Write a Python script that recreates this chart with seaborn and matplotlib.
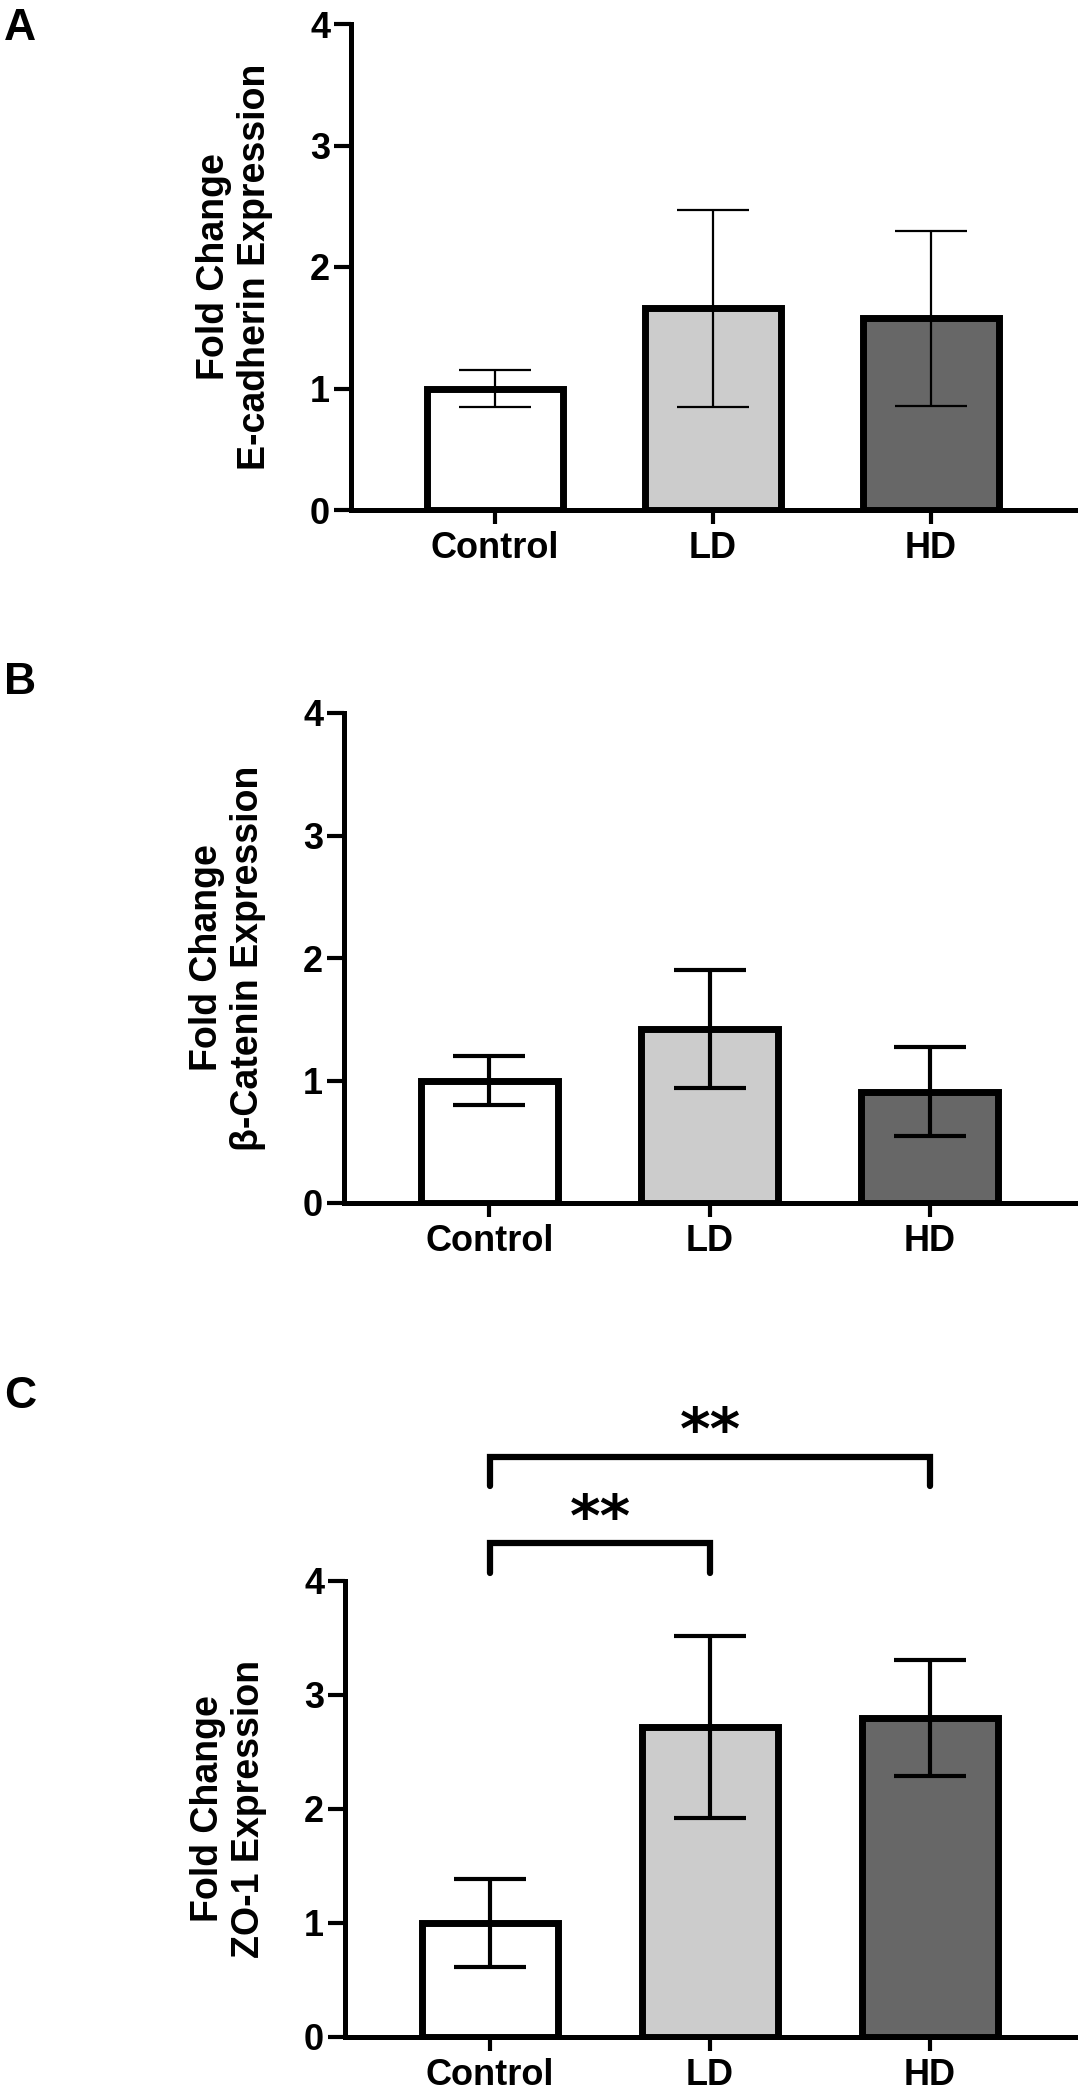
import numpy as np
import pandas as pd
import matplotlib
matplotlib.use("Agg")
import matplotlib.pyplot as plt
import seaborn as sns

# -------------------------------
# Data
# -------------------------------
groups = ["Control", "LD", "HD"]
bar_colors = ["#ffffff", "#cccccc", "#676767"]

ecad_mean = [1.00, 1.66, 1.58]
ecad_err = [0.15, 0.81, 0.72]

bcat_mean = [1.00, 1.42, 0.91]
bcat_err = [0.20, 0.48, 0.36]

zo1_mean = [1.00, 2.72, 2.80]
zo1_err = [0.39, 0.80, 0.51]

ylabels = [
    "Fold Change\nE-cadherin Expression",
    "Fold Change\n\u03b2-Catenin Expression",
    "Fold Change\nZO-1 Expression",
]
panel_letters = ["A", "B", "C"]
yticks = [0, 1, 2, 3, 4]

# significance brackets for panel C
bracket_pairs = [(0, 1), (0, 2)]
bracket_heights = [4.33, 5.09]
bracket_labels = ["**", "**"]

# -------------------------------
# Style
# -------------------------------
sns.set_style("ticks", {
    "axes.edgecolor": "black",
    "text.color": "black",
    "axes.labelcolor": "black",
    "xtick.color": "black",
    "ytick.color": "black",
})
plt.rcParams["font.family"] = ["Liberation Sans", "DejaVu Sans"]

fig = plt.figure(figsize=(10.8, 21), dpi=100)

# axes positions in figure fractions [left, bottom, width, height]
ax_boxes = [
    [351 / 1080, 1 - 510 / 2100, 724 / 1080, 486 / 2100],
    [344 / 1080, 1 - 1203 / 2100, 731 / 1080, 490 / 2100],
    [345 / 1080, 1 - 2037 / 2100, 730 / 1080, 456 / 2100],
]
err_lw = [1.6, 3.0, 3.0]
panels = [(ecad_mean, ecad_err), (bcat_mean, bcat_err), (zo1_mean, zo1_err)]

axes = []
for i, (means, errs) in enumerate(panels):
    ax = fig.add_axes(ax_boxes[i])
    df = pd.DataFrame({"group": groups, "value": means})

    sns.barplot(
        data=df, x="group", y="value", hue="group",
        palette=bar_colors, edgecolor="black", linewidth=5,
        width=0.62, errorbar=None, legend=False, ax=ax, zorder=2,
    )
    ax.errorbar(
        np.arange(len(groups)), means, yerr=errs, fmt="none",
        ecolor="black", elinewidth=err_lw[i], capsize=26,
        capthick=err_lw[i], zorder=3,
    )

    ax.set_xlim(-0.66, 2.66)
    ax.set_ylim(0, 4)
    ax.set_yticks(yticks)
    ax.set_xlabel("")
    ax.set_ylabel(ylabels[i], fontsize=27, fontweight="bold",
                  linespacing=1.15, labelpad=27, color="black")

    for lab in ax.get_xticklabels() + ax.get_yticklabels():
        lab.set_fontweight("bold")
        lab.set_fontsize(26)
        lab.set_color("black")

    sns.despine(ax=ax)
    for side in ["left", "bottom"]:
        ax.spines[side].set_linewidth(3.6)
        ax.spines[side].set_color("black")
    ax.tick_params(axis="y", length=12, width=3, pad=3, color="black")
    ax.tick_params(axis="x", length=10, width=3, pad=5, color="black")
    ax.patch.set_alpha(0)
    axes.append(ax)

# -------------------------------
# Panel letters
# -------------------------------
letter_y = [28, 683, 1396]
for letter, y in zip(panel_letters, letter_y):
    fig.text(20 / 1080, 1 - y / 2100, letter, fontsize=32,
             fontweight="bold", color="black", ha="center", va="center")

# -------------------------------
# Significance brackets (panel C)
# -------------------------------
axc = axes[2]
drop = 0.26
for (g1, g2), h, lab in zip(bracket_pairs, bracket_heights, bracket_labels):
    axc.plot([g1, g1, g2, g2], [h - drop, h, h, h - drop], color="black",
             lw=4.5, clip_on=False, solid_capstyle="round",
             solid_joinstyle="miter")
    axc.text((g1 + g2) / 2, h + 0.21, lab, fontsize=42, fontweight="bold",
             family="DejaVu Sans", color="black", ha="center", va="center",
             clip_on=False)

fig.savefig("out.png", dpi=100, facecolor="white")
plt.close(fig)
